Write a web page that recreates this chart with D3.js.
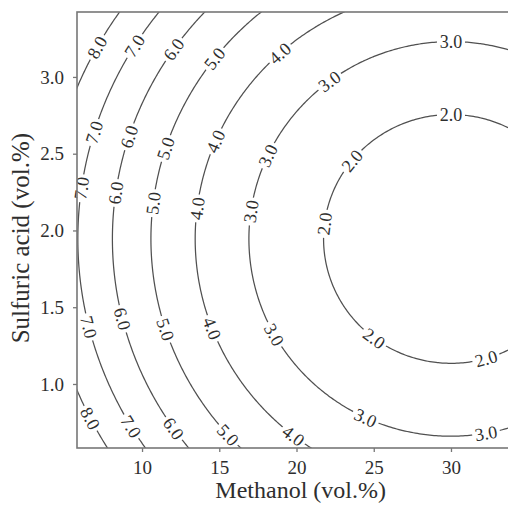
<!DOCTYPE html>
<html>
<head>
<meta charset="utf-8">
<script src="https://cdn.jsdelivr.net/npm/d3@7"></script>
<style>
  body { margin: 0; background: #fff; }
  text { font-family: "Liberation Serif", "Times New Roman", serif; }
</style>
</head>
<body>
<div id="chart-container"></div>
<script>
const svgWidth = 508,
    svgHeight = 512,
    margin = { top: 12, right: -4, bottom: 64, left: 77 },
    width = svgWidth - margin.left - margin.right,
    height = svgHeight - margin.top - margin.bottom;

// response surface: minimum value, its position and curvature
const surfaceMin = [1.34];
const surfaceCenter = [30, 1.945];     // methanol, sulfuric acid
const surfaceCurvature = [0.0097, 1.005];
const levels = [2, 3, 4, 5, 6, 7, 8];
// where each level carries its inline label (degrees round the contour)
const labelAngles = [
    [90, 141, 173, 233, 286],
    [90, 127, 155, 172, 209, 245, 280],
    [132, 157, 173, 201, 232],
    [142, 162, 173, 198, 222],
    [145, 162, 172, 194, 215],
    [148, 163, 172, 194, 211],
    [151, 207]
];
const xTicks = [10, 15, 20, 25, 30];
const yTicks = [1.0, 1.5, 2.0, 2.5, 3.0];
const xDomain = [5.79, 33.95];
const yDomain = [0.583, 3.423];

const surface = (x, y) => surfaceMin[0]
    + surfaceCurvature[0] * (x - surfaceCenter[0]) ** 2
    + surfaceCurvature[1] * (y - surfaceCenter[1]) ** 2;

var svg = d3.select("#chart-container").append("svg")
    .attr("width", svgWidth)
    .attr("height", svgHeight)
    .append("g")
    .attr("transform", "translate(" + margin.left + "," + margin.top + ")");

let xScale = d3.scaleLinear().domain(xDomain).range([0, width]),
    yScale = d3.scaleLinear().domain(yDomain).range([height, 0]);

svg.append("clipPath").attr("id", "plot-clip")
    .append("rect").attr("width", width).attr("height", height);

// grid a bit wider than the plot so the grid edges fall outside the clip
const nx = 240, ny = 240,
    gx0 = 4, gx1 = 36, gy0 = 0.3, gy1 = 3.7;
const gdx = (gx1 - gx0) / (nx - 1), gdy = (gy1 - gy0) / (ny - 1);
let values = new Array(nx * ny);
for (let j = 0; j < ny; j++) {
    for (let i = 0; i < nx; i++) {
        values[i + j * nx] = surface(gx0 + i * gdx, gy0 + j * gdy);
    }
}

let contours = d3.contours().size([nx, ny]).thresholds(levels)(values);

let gridToPixel = d3.geoTransform({
    point: function (gx, gy) {
        this.stream.point(xScale(gx0 + (gx - 0.5) * gdx), yScale(gy0 + (gy - 0.5) * gdy));
    }
});

svg.append("g")
    .attr("clip-path", "url(#plot-clip)")
    .selectAll("path")
    .data(contours)
    .join("path")
    .attr("d", d3.geoPath(gridToPixel))
    .attr("fill", "none")
    .attr("stroke", "#505050")
    .attr("stroke-width", 1.25);

// inline contour labels
let labelData = [];
levels.forEach((lv, k) => {
    let rx = Math.sqrt((lv - surfaceMin[0]) / surfaceCurvature[0]),
        ry = Math.sqrt((lv - surfaceMin[0]) / surfaceCurvature[1]);
    labelAngles[k].forEach((deg) => {
        let t = deg * Math.PI / 180;
        let x = surfaceCenter[0] + rx * Math.cos(t),
            y = surfaceCenter[1] + ry * Math.sin(t);
        let px = xScale(x), py = yScale(y);
        let tx = xScale(x - rx * Math.sin(t) * 0.01) - px,
            ty = yScale(y + ry * Math.cos(t) * 0.01) - py;
        let ang = Math.atan2(ty, tx) * 180 / Math.PI;
        if (ang > 90) ang -= 180;
        if (ang <= -90) ang += 180;
        labelData.push({ px: px, py: py, ang: ang, text: lv.toFixed(1) });
    });
});

let labels = svg.append("g")
    .selectAll("g")
    .data(labelData)
    .join("g")
    .attr("transform", (d) => "translate(" + d.px + "," + d.py + ") rotate(" + d.ang + ")");
labels.append("rect")
    .attr("x", -14).attr("y", -6)
    .attr("width", 28).attr("height", 12)
    .attr("fill", "#fff");
labels.append("text")
    .attr("text-anchor", "middle")
    .attr("dy", "0.35em")
    .attr("font-size", 18)
    .attr("fill", "#2e2e2e")
    .text((d) => d.text);

// frame
svg.append("rect")
    .attr("width", width).attr("height", height)
    .attr("fill", "none")
    .attr("stroke", "#777")
    .attr("stroke-width", 1.6);

// axes
let xAxis = svg.append("g")
    .attr("transform", "translate(0," + height + ")")
    .call(d3.axisBottom(xScale).tickValues(xTicks).tickSize(4).tickPadding(9).tickFormat(d3.format("d")));
let yAxis = svg.append("g")
    .call(d3.axisLeft(yScale).tickValues(yTicks).tickSize(4).tickPadding(9).tickFormat(d3.format(".1f")));
[xAxis, yAxis].forEach((ax) => {
    ax.select(".domain").remove();
    ax.selectAll("line").attr("stroke", "#777").attr("stroke-width", 1.3);
    ax.selectAll("text")
        .attr("font-family", "Liberation Serif")
        .attr("font-size", 19)
        .attr("fill", "#2e2e2e");
});

svg.append("text")
    .attr("x", xScale(15.2) - 7)
    .attr("y", height + 50)
    .attr("font-size", 24)
    .attr("fill", "#2e2e2e")
    .text("Methanol (vol.%)");

svg.append("text")
    .attr("transform", "translate(" + (-48) + "," + yScale(1.95) + ") rotate(-90)")
    .attr("text-anchor", "middle")
    .attr("font-size", 25)
    .attr("fill", "#2e2e2e")
    .text("Sulfuric acid (vol.%)");
</script>
</body>
</html>
